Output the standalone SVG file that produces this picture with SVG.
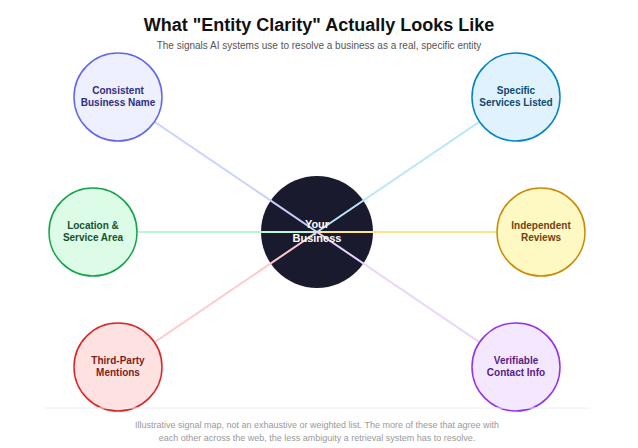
<svg xmlns="http://www.w3.org/2000/svg" width="638" height="448" viewBox="0 0 638 448">
<style>
text{font-family:"Liberation Sans",Arial,sans-serif;text-anchor:middle}
.n{font-size:10px;font-weight:bold}
.c line{stroke-width:2}
</style>
<rect width="638" height="448" fill="#fff"/>
<text x="319" y="31" font-size="18" font-weight="bold" fill="#111">What "Entity Clarity" Actually Looks Like</text>
<text x="319" y="49" font-size="10" fill="#555">The signals AI systems use to resolve a business as a real, specific entity</text>
<g id="center"><circle cx="317" cy="232" r="56" fill="#1a1a2e"/></g>
<g id="connectors" class="c">
<line x1="317" y1="232" x2="118" y2="97" stroke="#c7d2fe"/>
<line x1="317" y1="232" x2="516" y2="97" stroke="#bae6fd"/>
<line x1="317" y1="232" x2="93" y2="232" stroke="#bbf7d0"/>
<line x1="317" y1="232" x2="541" y2="232" stroke="#fde68a"/>
<line x1="317" y1="232" x2="118" y2="367" stroke="#fecaca"/>
<line x1="317" y1="232" x2="516" y2="367" stroke="#e9d5ff"/>
</g>
<g id="center-label" font-size="11" font-weight="bold" fill="#fff"><text x="317" y="228">Your</text><text x="317" y="242">Business</text></g>
<g id="n1"><circle cx="118" cy="97" r="44" fill="#eef0ff" stroke="#6366f1" stroke-width="1.5"/><text class="n" fill="#312e81" x="118" y="94">Consistent</text><text class="n" fill="#312e81" x="118" y="106">Business Name</text></g>
<g id="n2"><circle cx="516" cy="97" r="44" fill="#e0f2fe" stroke="#0284c7" stroke-width="1.5"/><text class="n" fill="#0c4a6e" x="516" y="94">Specific</text><text class="n" fill="#0c4a6e" x="516" y="106">Services Listed</text></g>
<g id="n3"><circle cx="93" cy="232" r="44" fill="#dcfce7" stroke="#16a34a" stroke-width="1.5"/><text class="n" fill="#14532d" x="93" y="229">Location &amp;</text><text class="n" fill="#14532d" x="93" y="241">Service Area</text></g>
<g id="n4"><circle cx="541" cy="232" r="44" fill="#fef9c3" stroke="#ca8a04" stroke-width="1.5"/><text class="n" fill="#713f12" x="541" y="229">Independent</text><text class="n" fill="#713f12" x="541" y="241">Reviews</text></g>
<g id="n5"><circle cx="118" cy="367" r="44" fill="#fee2e2" stroke="#dc2626" stroke-width="1.5"/><text class="n" fill="#7f1d1d" x="118" y="364">Third-Party</text><text class="n" fill="#7f1d1d" x="118" y="376">Mentions</text></g>
<g id="n6"><circle cx="516" cy="367" r="44" fill="#f3e8ff" stroke="#9333ea" stroke-width="1.5"/><text class="n" fill="#581c87" x="516" y="364">Verifiable</text><text class="n" fill="#581c87" x="516" y="376">Contact Info</text></g>
<line x1="45" y1="408" x2="590" y2="408" stroke="#eee"/>
<text x="317" y="428" font-size="9" fill="#999">Illustrative signal map, not an exhaustive or weighted list. The more of these that agree with</text>
<text x="317" y="441" font-size="9" fill="#999">each other across the web, the less ambiguity a retrieval system has to resolve.</text>
</svg>
